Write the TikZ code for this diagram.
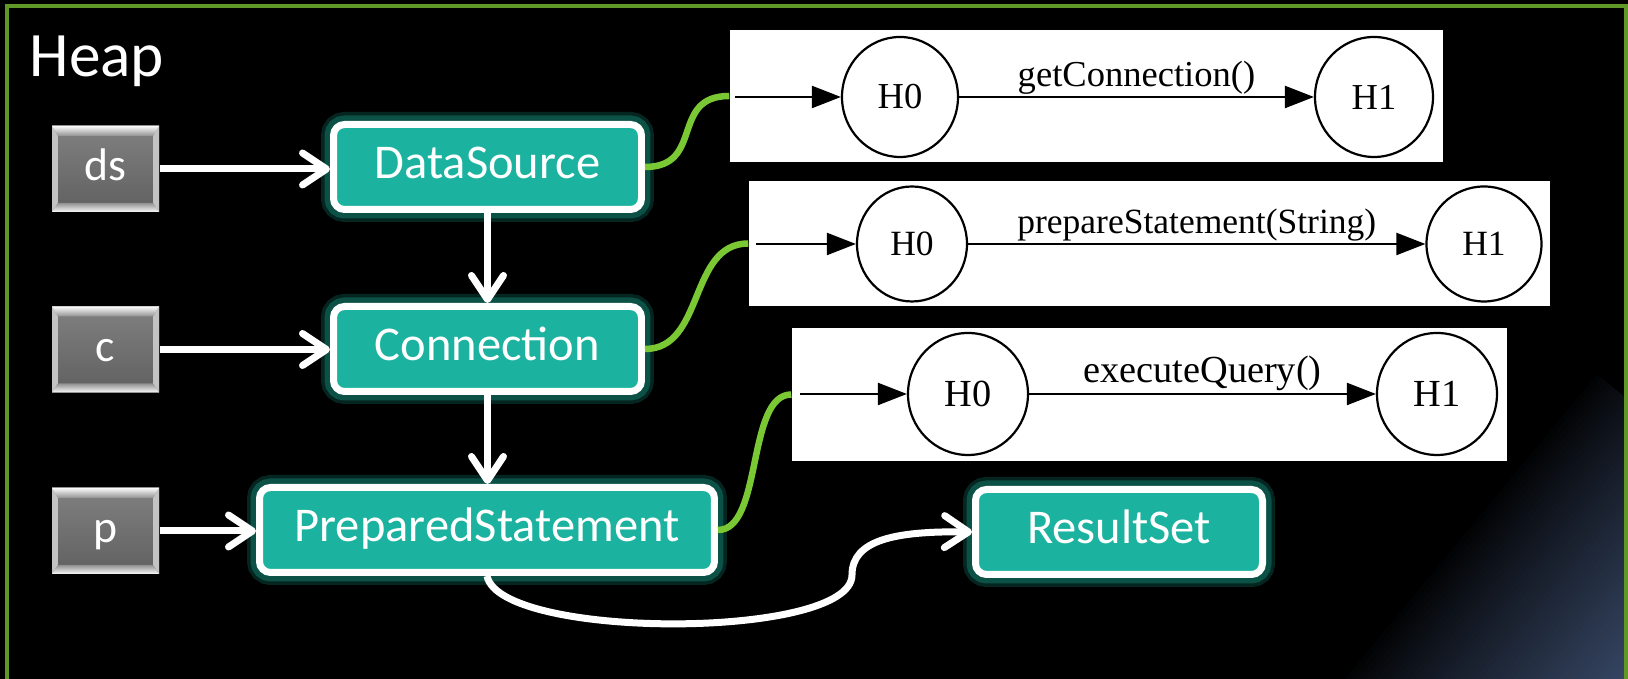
\documentclass[tikz,border=0pt]{standalone}
\usepackage{fontspec}
\setmainfont{Carlito}
\newfontfamily\gvfont{Liberation Serif}
\usetikzlibrary{arrows.meta,shapes.geometric}

\definecolor{tealfill}{RGB}{27,179,159}
\definecolor{tealglow}{RGB}{18,125,108}
\definecolor{linkgreen}{RGB}{122,201,52}
\definecolor{framegreen}{RGB}{96,152,40}
\definecolor{cornerblue}{RGB}{54,70,100}
\definecolor{bvtop}{RGB}{128,128,128}
\definecolor{bvmid}{RGB}{78,78,78}
\definecolor{bvbot}{RGB}{96,96,96}
\definecolor{bvlight}{RGB}{250,250,250}
\definecolor{bvedge}{RGB}{145,145,145}
\definecolor{bvsideA}{RGB}{195,195,195}
\definecolor{bvsideB}{RGB}{118,118,118}

\tikzset{
  objbox/.style={rounded corners=1.1mm, draw=white, line width=0.7mm, fill=tealfill,
    text=white, font=\fontsize{13.8}{16}\selectfont, inner sep=0,
    text height=0.66em, text depth=0pt, minimum height=8.5mm,
    preaction={draw=tealglow, line width=2.5mm, opacity=0.3},
    preaction={draw=tealglow, line width=1.8mm, opacity=0.5}},
  varbox/.style={inner sep=0, minimum width=10.7mm, minimum height=8.6mm,
    text=white, font=\fontsize{13}{15}\selectfont, text height=0.66em, text depth=0pt},
  wire/.style={draw=white, line width=0.7mm,
    -{Straight Barb[length=2.4mm,width=3.2mm,round]}},
  link/.style={draw=linkgreen, line width=0.65mm},
  panel/.style={fill=white, draw=none, inner sep=0},
  gvstate/.style={ellipse, draw=black, line width=0.22mm, fill=white, inner sep=0},
  gvedge/.style={draw=black, line width=0.22mm, -{Triangle[length=2.9mm,width=2.2mm]}},
  gvlabel/.style={anchor=base, inner sep=0, yshift=1mm},
}

% bevelled grey variable box: name, x, y, text
\newcommand\bevelbox[4]{%
  \begin{scope}[shift={(#2,#3)}]
    \shade[top color=bvtop, middle color=bvmid, bottom color=bvbot]
      (-53.5,-43) rectangle (53.5,43);
    \shade[top color=bvsideA, middle color=bvsideB, bottom color=bvsideA]
      (-53.5,-43) -- (-47.5,-33) -- (-47.5,34) -- (-53.5,43) -- cycle;
    \shade[top color=bvsideA, middle color=bvsideB, bottom color=bvsideA]
      (53.5,-43) -- (47.5,-33) -- (47.5,34) -- (53.5,43) -- cycle;
    \shade[top color=bvlight, bottom color=bvedge]
      (-53.5,-43) -- (53.5,-43) -- (47.5,-33) -- (-47.5,-33) -- cycle;
    \shade[top color=bvedge, bottom color=bvlight]
      (-53.5,43) -- (53.5,43) -- (47.5,34) -- (-47.5,34) -- cycle;
  \end{scope}
  \node[varbox] (#1) at (#2,#3) {#4};}

\begin{document}
\begin{tikzpicture}[x=0.1mm, y=-0.1mm]
  \useasboundingbox (0,0) rectangle (1628,679);
  \fill[black] (0,0) rectangle (1628,679);

  % bluish glow in the lower right corner, and the green frame
  \begin{scope}
    \clip (0,0) rectangle (1628,679);
    \foreach \i in {0,...,47} {
      \pgfmathsetmacro\ta{\i*5}
      \pgfmathsetmacro\tb{\i*5+5.5}
      \pgfmathsetmacro\pc{min(100,100*(\i*5/223)^0.85)}
      \fill[cornerblue!\pc!black]
        ({1338+0.770*\ta+0.638*400},{679+0.638*\ta-0.770*400}) --
        ({1338+0.770*\ta-0.638*400},{679+0.638*\ta+0.770*400}) --
        ({1338+0.770*\tb-0.638*400},{679+0.638*\tb+0.770*400}) --
        ({1338+0.770*\tb+0.638*400},{679+0.638*\tb-0.770*400}) -- cycle;
    }
    \draw[framegreen, line width=0.4mm] (7,700) -- (7,6) -- (1626,6) -- (1626,700);
  \end{scope}

  \node[anchor=base west, inner sep=0, text=white, font=\fontsize{18}{20}\selectfont]
    (heap) at (29,77) {Heap};

  % variables
  \bevelbox{ds}{105.5}{169}{ds}
  \bevelbox{c}{105.5}{349.5}{c}
  \bevelbox{p}{105.5}{531}{p}

  % heap objects
  \node[objbox, minimum width=30.8mm] (dsrc) at (487.5,167) {DataSource};
  \node[objbox, minimum width=30.8mm] (conn) at (487.5,349) {Connection};
  \node[objbox, minimum width=45.5mm] (ps) at (487,530) {PreparedStatement};
  \node[objbox, minimum width=28.7mm] (rs) at (1119,532) {ResultSet};

  % references
  \draw[wire] (ds.east) -- (ds.east -| dsrc.west);
  \draw[wire] (c.east) -- (c.east -| conn.west);
  \draw[wire] (p.east) -- (p.east -| ps.west);
  \draw[wire] (dsrc.south) -- (conn.north);
  \draw[wire] (conn.south) -- (conn.south |- ps.north);
  \draw[wire] (ps.south) .. controls (500,640) and (852,640) .. (852,575)
    .. controls (852,540) and (895,531) .. (rs.west);

  % typestate automata
  \node[panel, minimum width=71.3mm, minimum height=13.2mm] (pa) at (1086.5,96) {};
  \node[panel, minimum width=80.1mm, minimum height=12.5mm] (pb) at (1149.5,243.5) {};
  \node[panel, minimum width=71.5mm, minimum height=13.3mm] (pc) at (1149.5,394.5) {};

  \begin{scope}[font=\gvfont\fontsize{10.4}{12}\selectfont]
    \coordinate (sa) at (735,97);
    \node[gvstate, minimum width=11.6mm, minimum height=12mm] (a0) at (900,97) {H0};
    \node[gvstate, minimum width=11.8mm, minimum height=12mm] (a1) at (1374,97) {H1};
    \draw[gvedge] (sa) -- (a0);
    \draw[gvedge] (a0) -- node[gvlabel] {getConnection()} (a1);
  \end{scope}

  \begin{scope}[font=\gvfont\fontsize{10.1}{12}\selectfont]
    \coordinate (sb) at (756,244);
    \node[gvstate, minimum width=11mm, minimum height=11.5mm] (b0) at (912,244) {H0};
    \node[gvstate, minimum width=11.5mm, minimum height=11.5mm] (b1) at (1484,244) {H1};
    \draw[gvedge] (sb) -- (b0);
    \draw[gvedge] (b0) -- node[gvlabel] {prepareStatement(String)} (b1);
  \end{scope}

  \begin{scope}[font=\gvfont\fontsize{10.9}{12}\selectfont]
    \coordinate (sc) at (800,394);
    \node[gvstate, minimum width=12mm, minimum height=12.2mm] (c0) at (968,394) {H0};
    \node[gvstate, minimum width=12mm, minimum height=12.2mm] (c1) at (1437,394) {H1};
    \draw[gvedge] (sc) -- (c0);
    \draw[gvedge] (c0) -- node[gvlabel, yshift=0.1mm] {executeQuery()} (c1);
  \end{scope}

  % links from objects to their automata
  \draw[link] (dsrc.east) .. controls +(60,0) and +(-60,0) .. (pa.west);
  \draw[link] (conn.east) .. controls +(60,0) and +(-60,0) .. (pb.west);
  \draw[link] (ps.east) .. controls +(45,0) and +(-45,0) .. (pc.west);
\end{tikzpicture}
\end{document}
